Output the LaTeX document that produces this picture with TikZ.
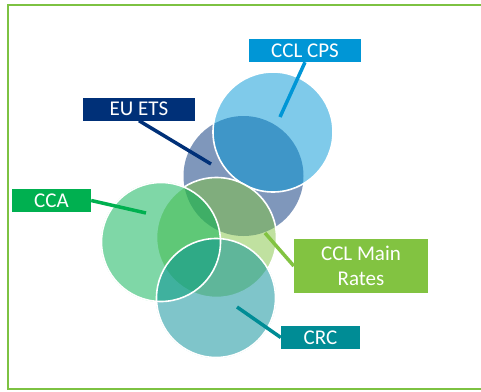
\documentclass[tikz,border=0pt]{standalone}
\usepackage{fontspec}
\setmainfont{Carlito}
\definecolor{schemeCps}{RGB}{0,150,214}
\definecolor{schemeEts}{RGB}{0,48,120}
\definecolor{schemeMain}{RGB}{130,195,65}
\definecolor{schemeCca}{RGB}{0,176,80}
\definecolor{schemeCrc}{RGB}{0,140,149}
\definecolor{schemeFrame}{RGB}{125,194,66}
\usetikzlibrary{calc}

\begin{document}
\begin{tikzpicture}[x=1pt, y=-1pt,
  disc/.style={circle, minimum size=120pt, inner sep=0pt, fill opacity=0.5},
  rim/.style={draw=white, line width=1.6pt},
  tag/.style={rectangle, inner sep=0pt, minimum height=23pt, text=white,
              font=\fontsize{21}{25}\selectfont, align=center},
  lead/.style={line width=3.5pt}
]
  \useasboundingbox (0,0) rectangle (481,391);
  % outer frame, open on the right
  \draw[schemeFrame, line width=2pt] (481,5) -- (8,5) -- (8,389) -- (481,389);

  % overlapping schemes
  \node[disc, fill=schemeEts]        (ets)  at (243.5,176) {};
  \node[disc, fill=schemeCps, rim]   (cps)  at (273,132)   {};
  \node[disc, fill=schemeMain, rim]  (main) at (216.5,237.5) {};
  \node[disc, fill=schemeCca]        (cca)  at (161,242)   {};
  \node[disc, fill=schemeCrc]        (crc)  at (216,298)   {};
  \draw[rim] (crc.center) circle[radius=59.5pt];
  \draw[rim] (cca.center) circle[radius=59.5pt];

  % labels
  \node[tag, fill=schemeCps,  minimum width=112pt] (cpsLbl)  at (305,50.5)  {CCL CPS};
  \node[tag, fill=schemeEts,  minimum width=112pt] (etsLbl)  at (139,109)   {EU ETS};
  \node[tag, fill=schemeCca,  minimum width=79pt]  (ccaLbl)  at (51.5,200.5) {CCA};
  \node[tag, fill=schemeMain, minimum width=134pt, minimum height=54pt]
                                                   (mainLbl) at (361,266)   {CCL Main\\Rates};
  \node[tag, fill=schemeCrc,  minimum width=79pt]  (crcLbl)  at (320.5,337.5) {CRC};

  % pointer ends inside the circles
  \coordinate (cpsEnd)  at ($(cps.center)+(7,-15)$);
  \coordinate (etsEnd)  at ($(ets.center)+(-32.5,-12)$);
  \coordinate (ccaEnd)  at ($(cca.center)+(-15,-29)$);
  \coordinate (mainEnd) at ($(main.center)+(48.5,-4.5)$);
  \coordinate (crcEnd)  at ($(crc.center)+(21,9)$);

  \draw[lead, schemeCps]  (cpsLbl.south) -- (cpsEnd);
  \draw[lead, schemeEts]  (etsLbl.south) -- (etsEnd);
  \draw[lead, schemeCca]  (ccaLbl.east)  -- (ccaEnd);
  \draw[lead, schemeMain] (mainLbl.west) -- (mainEnd);
  \draw[lead, schemeCrc]  (crcLbl.west)  -- (crcEnd);
\end{tikzpicture}
\end{document}
